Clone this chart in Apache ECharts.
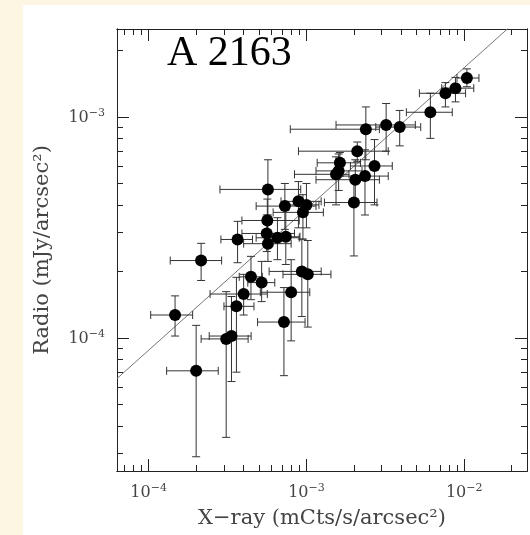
<!DOCTYPE html>
<html>
<head>
<meta charset="utf-8">
<script src="https://cdn.jsdelivr.net/npm/echarts@6/dist/echarts.min.js"></script>
<style>
html, body { margin: 0; padding: 0; background: #fdf6e3; }
#paper { position: absolute; left: 23px; top: 5px; right: 0; bottom: 0; background: #fff; }
#chart { position: absolute; left: 0; top: 0; width: 530px; height: 535px; }
</style>
</head>
<body>
<div id="paper"></div>
<div id="chart"></div>
<script>
// X-ray surface brightness (mCts/s/arcsec^2) with error range
var xray   = [1.04e-2, 8.8e-3, 7.6e-3, 6.1e-3, 3.9e-3, 3.2e-3, 2.38e-3, 2.1e-3, 1.63e-3, 1.6e-3, 1.54e-3, 2.7e-3, 2.35e-3, 2.04e-3, 2.0e-3, 5.7e-4, 7.3e-4, 8.9e-4, 1.0e-3, 9.5e-4, 5.65e-4, 5.6e-4, 6.55e-4, 7.4e-4, 5.7e-4, 3.66e-4, 2.15e-4, 4.45e-4, 5.2e-4, 9.35e-4, 1.02e-3, 4.0e-4, 8.0e-4, 3.6e-4, 1.47e-4, 7.2e-4, 3.1e-4, 3.35e-4, 2.0e-4];
var xrayLo = [9.0e-3, 7.2e-3, 5.2e-3, 4.3e-3, 2.75e-3, 1.54e-3, 7.9e-4, 8.9e-4, 1.17e-3, 1.15e-3, 8.4e-4, 1.9e-3, 1.61e-3, 1.15e-3, 1.3e-3, 2.83e-4, 4.8e-4, 6.9e-4, 7.2e-4, 6.15e-4, 3.9e-4, 3.9e-4, 4.8e-4, 6.15e-4, 4.0e-4, 2.87e-4, 1.37e-4, 3.75e-4, 4.25e-4, 5.8e-4, 7.1e-4, 2.45e-4, 5.1e-4, 3.0e-4, 1.03e-4, 4.9e-4, 2.15e-4, 2.42e-4, 1.3e-4];
var xrayHi = [1.24e-2, 1.15e-2, 1.02e-2, 8.4e-3, 5.3e-3, 4.9e-3, 2.9e-3, 3.3e-3, 2.2e-3, 2.25e-3, 1.86e-3, 3.5e-3, 3.3e-3, 2.9e-3, 2.8e-3, 9.2e-4, 1.15e-3, 1.24e-3, 1.2e-3, 1.28e-3, 9.0e-4, 8.4e-4, 9.0e-4, 9.1e-4, 8.0e-4, 4.55e-4, 2.9e-4, 5.25e-4, 6.3e-4, 1.24e-3, 1.43e-3, 5.65e-4, 1.05e-3, 4.65e-4, 1.9e-4, 9.8e-4, 4.27e-4, 4.46e-4, 2.76e-4];

// Radio surface brightness (mJy/arcsec^2) with error range
var radio   = [1.5e-3, 1.35e-3, 1.28e-3, 1.05e-3, 9.0e-4, 9.2e-4, 8.8e-4, 7.0e-4, 6.2e-4, 5.7e-4, 5.5e-4, 6.0e-4, 5.4e-4, 5.2e-4, 4.1e-4, 4.7e-4, 3.95e-4, 4.15e-4, 4.0e-4, 3.7e-4, 3.4e-4, 2.97e-4, 2.84e-4, 2.87e-4, 2.67e-4, 2.79e-4, 2.24e-4, 1.89e-4, 1.78e-4, 2.0e-4, 1.94e-4, 1.58e-4, 1.61e-4, 1.39e-4, 1.27e-4, 1.18e-4, 9.9e-5, 1.02e-4, 7.1e-5];
var radioLo = [1.37e-3, 1.17e-3, 1.11e-3, 8.0e-4, 7.4e-4, 7.0e-4, 6.4e-4, 6.3e-4, 5.4e-4, 4.65e-4, 4.0e-4, 4.0e-4, 3.6e-4, 4.2e-4, 2.35e-4, 3.6e-4, 3.1e-4, 3.15e-4, 3.15e-4, 2.8e-4, 2.65e-4, 2.46e-4, 2.26e-4, 2.15e-4, 2.22e-4, 2.19e-4, 1.82e-4, 1.49e-4, 1.46e-4, 1.25e-4, 1.12e-4, 1.27e-4, 9.7e-5, 7.0e-5, 1.02e-4, 6.75e-5, 3.55e-5, 6.35e-5, 2.9e-5];
var radioHi = [1.65e-3, 1.51e-3, 1.43e-3, 1.28e-3, 1.07e-3, 1.15e-3, 1.11e-3, 7.7e-4, 6.9e-4, 6.8e-4, 6.6e-4, 7.9e-4, 7.1e-4, 6.4e-4, 5.1e-4, 6.4e-4, 5.0e-4, 5.1e-4, 5.0e-4, 4.45e-4, 4.25e-4, 3.6e-4, 3.5e-4, 3.8e-4, 3.26e-4, 3.37e-4, 2.68e-4, 2.34e-4, 2.22e-4, 2.8e-4, 2.76e-4, 1.94e-4, 2.26e-4, 1.88e-4, 1.55e-4, 1.69e-4, 1.62e-4, 1.54e-4, 1.14e-4];

// best-fit line (end points)
var fitLine = [[6.3e-5, 6.55e-5], [1.9e-2, 2.52e-3]];

// ticks
var xMajor = [1e-4, 1e-3, 1e-2];
var xMinor = [7e-5, 8e-5, 9e-5, 2e-4, 3e-4, 4e-4, 5e-4, 6e-4, 7e-4, 8e-4, 9e-4, 2e-3, 3e-3, 4e-3, 5e-3, 6e-3, 7e-3, 8e-3, 9e-3, 2e-2];
var yMajor = [1e-4, 1e-3];
var yMinor = [3e-5, 4e-5, 5e-5, 6e-5, 7e-5, 8e-5, 9e-5, 2e-4, 3e-4, 4e-4, 5e-4, 6e-4, 7e-4, 8e-4, 9e-4, 2e-3];

var rows = xray.map(function (x, i) {
    return [x, radio[i], xrayLo[i], xrayHi[i], radioLo[i], radioHi[i]];
});

var serif = '"DejaVu Serif", serif';
var labelRich = {
    b: { fontFamily: serif, fontSize: 16, color: '#444', lineHeight: 18, verticalAlign: 'bottom' },
    s: { fontFamily: serif, fontSize: 11, color: '#444', lineHeight: 11, verticalAlign: 'top' }
};

function supLabel(v) {
    var e = Math.round(Math.log(v) / Math.LN10);
    return '{b|10}{s|\u2212' + Math.abs(e) + '}';
}

function logAxis(position, min, max, ticks, len, labels) {
    return {
        type: 'log',
        position: position,
        min: min,
        max: max,
        axisLine: { show: true, onZero: false, lineStyle: { color: '#222', width: 1 } },
        axisTick: { show: true, inside: true, length: len, customValues: ticks, lineStyle: { color: '#222', width: 1 } },
        axisLabel: labels ? { show: true, customValues: ticks, formatter: supLabel, rich: labelRich, margin: 12 } : { show: false },
        splitLine: { show: false },
        minorTick: { show: false }
    };
}

var chart = echarts.init(document.getElementById('chart'));

var xMin = 6.3e-5, xMax = 2.5e-2, yMin = 2.5e-5, yMax = 2.5e-3;
var xAxes = [
    logAxis('bottom', xMin, xMax, xMajor, 12, true),
    logAxis('bottom', xMin, xMax, xMinor, 6, false),
    logAxis('top', xMin, xMax, xMajor, 12, false),
    logAxis('top', xMin, xMax, xMinor, 6, false)
];
var yAxes = [
    logAxis('left', yMin, yMax, yMajor, 12, true),
    logAxis('left', yMin, yMax, yMinor, 6, false),
    logAxis('right', yMin, yMax, yMajor, 12, false),
    logAxis('right', yMin, yMax, yMinor, 6, false)
];
xAxes[0].name = 'X\u2212ray (mCts/s/arcsec\u00b2)';
xAxes[0].nameLocation = 'middle';
xAxes[0].nameGap = 37;
xAxes[0].nameTextStyle = { fontFamily: serif, fontSize: 21, color: '#444' };
yAxes[0].name = 'Radio (mJy/arcsec\u00b2)';
yAxes[0].nameLocation = 'middle';
yAxes[0].nameGap = 64;
yAxes[0].nameTextStyle = { fontFamily: serif, fontSize: 21, color: '#444' };

var option = {
    backgroundColor: 'transparent',
    animation: false,
    title: {
        text: 'A 2163',
        left: 167,
        top: 33,
        padding: 0,
        textStyle: { fontFamily: '"Liberation Serif", serif', fontSize: 42, fontWeight: 'normal', color: '#000' }
    },
    grid: { left: 117, top: 29, width: 410, height: 442 },
    xAxis: xAxes,
    yAxis: yAxes,
    series: [
        {
            // error bars
            type: 'custom',
            xAxisIndex: 0,
            yAxisIndex: 0,
            data: rows,
            encode: { x: 0, y: 1 },
            clip: true,
            z: 2,
            renderItem: function (params, api) {
                var x = api.value(0), y = api.value(1);
                var l = api.coord([api.value(2), y]);
                var r = api.coord([api.value(3), y]);
                var b = api.coord([x, api.value(4)]);
                var t = api.coord([x, api.value(5)]);
                var c = 4;
                var st = { stroke: '#333', lineWidth: 1 };
                function seg(x1, y1, x2, y2) {
                    return { type: 'line', shape: { x1: x1, y1: y1, x2: x2, y2: y2 }, style: st };
                }
                return {
                    type: 'group',
                    children: [
                        seg(l[0], l[1], r[0], r[1]),
                        seg(l[0], l[1] - c, l[0], l[1] + c),
                        seg(r[0], r[1] - c, r[0], r[1] + c),
                        seg(b[0], b[1], t[0], t[1]),
                        seg(b[0] - c, b[1], b[0] + c, b[1]),
                        seg(t[0] - c, t[1], t[0] + c, t[1])
                    ]
                };
            }
        },
        {
            type: 'line',
            xAxisIndex: 0,
            yAxisIndex: 0,
            data: fitLine,
            symbol: 'none',
            silent: true,
            z: 1,
            lineStyle: { color: '#777', width: 1 }
        },
        {
            type: 'scatter',
            xAxisIndex: 0,
            yAxisIndex: 0,
            data: rows.map(function (d) { return [d[0], d[1]]; }),
            symbolSize: 12,
            z: 3,
            itemStyle: { color: '#000', opacity: 1 }
        }
    ]
};
chart.setOption(option);
</script>
</body>
</html>
